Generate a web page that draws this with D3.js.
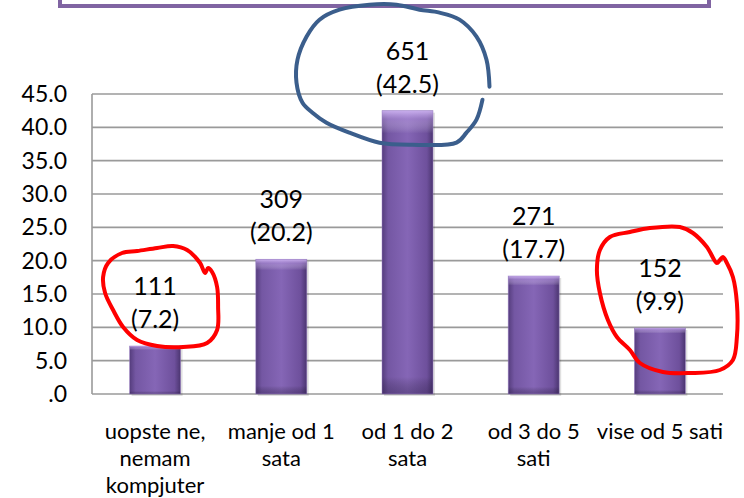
<!DOCTYPE html>
<html>
<head>
<meta charset="utf-8">
<script src="https://cdn.jsdelivr.net/npm/d3@7"></script>
<style>
  body { margin: 0; background: #fff; }
  svg { display: block; font-family: Lato, "Open Sans", sans-serif; }
</style>
</head>
<body>
<div id="grafik"></div>
<script>
// podaci
const kategorije = ["uopste ne, nemam kompjuter", "manje od 1 sata", "od 1 do 2 sata", "od 3 do 5 sati", "vise od 5 sati"];
const kategorijeRedovi = [["uopste ne,", "nemam", "kompjuter"], ["manje od 1", "sata"], ["od 1 do 2", "sata"], ["od 3 do 5", "sati"], ["vise od 5 sati"]];
const broj = [111, 309, 651, 271, 152];
const procenat = [7.2, 20.2, 42.5, 17.7, 9.9];
const yTicks = [0, 5, 10, 15, 20, 25, 30, 35, 40, 45];

// rucno nacrtani krugovi (pomak u px od vrha stupca)
const krugovi = [
  { idx: 0, boja: "#ff0000", zatvoren: true, tacke: [[50,-73],[45,-83],[32,-96],[18,-100],[2,-98],[-18,-95],[-33,-93],[-47,-83],[-52,-69],[-50,-53],[-42,-36],[-32,-19],[-18,-6],[2,0],[28,1],[52,-3],[62,-16],[63,-39],[62,-59],[57,-74],[53,-78],[50,-73]] },
  { idx: 2, boja: "#3b5e8c", zatvoren: false, tacke: [[82,-24],[79,-51],[69,-74],[52,-91],[32,-98],[12,-101],[-11,-106],[-38,-106],[-68,-101],[-88,-91],[-101,-74],[-110,-51],[-111,-28],[-105,-8],[-95,2],[-81,12],[-58,22],[-28,32],[5,34],[49,32],[59,22],[69,9],[75,-11]] },
  { idx: 4, boja: "#ff0000", zatvoren: true, tacke: [[63,-71],[67,-65],[73,-51],[77,-25],[77,9],[73,32],[60,42],[30,45],[3,44],[-20,35],[-30,22],[-43,9],[-52,-8],[-60,-35],[-63,-58],[-60,-78],[-50,-91],[-30,-96],[-10,-100],[20,-101],[33,-95],[47,-81],[57,-65],[60,-68],[63,-71]] }
];

const width = 744, height = 498;
const m = { left: 92, right: 723, top: 94, bottom: 394 };

const svg = d3.select("#grafik").append("svg")
  .attr("width", width).attr("height", height);

const defs = svg.append("defs");
const grad = defs.append("linearGradient").attr("id", "stubac").attr("x1", "0").attr("x2", "1").attr("y1", "0").attr("y2", "0");
[["0%", "#553d7d"], ["12%", "#7457a3"], ["50%", "#8566b6"], ["88%", "#6e509c"], ["100%", "#4b3570"]]
  .forEach(s => grad.append("stop").attr("offset", s[0]).attr("stop-color", s[1]));
const sjaj = defs.append("linearGradient").attr("id", "sjaj").attr("x1", "0").attr("x2", "0").attr("y1", "0").attr("y2", "1");
[["0%", "#d2b8f5", 0.9], ["3%", "#b89ae0", 0.5], ["8%", "#ffffff", 0], ["94%", "#000000", 0], ["100%", "#2a1a45", 0.35]]
  .forEach(s => sjaj.append("stop").attr("offset", s[0]).attr("stop-color", s[1]).attr("stop-opacity", s[2]));

// naslovni okvir (odsjecen)
svg.append("rect")
  .attr("x", 60).attr("y", -40).attr("width", 649).attr("height", 46)
  .attr("fill", "#fff").attr("stroke", "#8064a2").attr("stroke-width", 4);

const x = d3.scaleBand().domain(kategorije).range([m.left, m.right]).paddingInner(0.596).paddingOuter(0.298);
const y = d3.scaleLinear().domain([0, 45]).range([m.bottom, m.top]);

// mreza
svg.append("g").selectAll("line").data(yTicks).enter().append("line")
  .attr("x1", m.left).attr("x2", m.right)
  .attr("y1", d => y(d)).attr("y2", d => y(d))
  .attr("stroke", "#9a9a9a").attr("stroke-width", 1.6);

svg.append("line")
  .attr("x1", m.left).attr("x2", m.left).attr("y1", m.top).attr("y2", m.bottom)
  .attr("stroke", "#9a9a9a").attr("stroke-width", 1.6);

// Y os
const yAxis = svg.append("g")
  .attr("transform", `translate(${m.left - 25},0)`)
  .call(d3.axisLeft(y).tickValues(yTicks).tickSize(0).tickPadding(0)
    .tickFormat(d => d === 0 ? ".0" : d3.format(".1f")(d)));
yAxis.select(".domain").remove();
yAxis.selectAll("text").attr("font-size", "23px").attr("fill", "#000")
  .attr("font-family", "Lato, sans-serif");

// stupci
const podaci = kategorije.map((k, i) => ({ k: k, n: broj[i], p: procenat[i] }));

svg.selectAll("rect.senka").data(podaci).enter().append("rect")
  .attr("class", "senka")
  .attr("x", d => x(d.k) + 2).attr("y", d => y(d.p) + 2)
  .attr("width", x.bandwidth()).attr("height", d => y(0) - y(d.p))
  .attr("fill", "#000").attr("opacity", 0.12);

svg.selectAll("rect.stubac").data(podaci).enter().append("rect")
  .attr("class", "stubac")
  .attr("x", d => x(d.k)).attr("y", d => y(d.p))
  .attr("width", x.bandwidth()).attr("height", d => y(0) - y(d.p))
  .attr("fill", "url(#stubac)");

svg.selectAll("rect.sjaj").data(podaci).enter().append("rect")
  .attr("class", "sjaj")
  .attr("x", d => x(d.k)).attr("y", d => y(d.p))
  .attr("width", x.bandwidth()).attr("height", d => y(0) - y(d.p))
  .attr("fill", "url(#sjaj)")
  .attr("stroke", "#9b7fc6").attr("stroke-width", 0.8).attr("stroke-opacity", 0.6);

// oznake vrijednosti
const oznake = svg.append("g").attr("font-size", "25px").attr("text-anchor", "middle").attr("fill", "#000");
oznake.selectAll("text.n").data(podaci).enter().append("text")
  .attr("x", d => x(d.k) + x.bandwidth() / 2)
  .attr("y", d => y(d.p) - 51)
  .text(d => d.n);
oznake.selectAll("text.p").data(podaci).enter().append("text")
  .attr("x", d => x(d.k) + x.bandwidth() / 2)
  .attr("y", d => y(d.p) - 18)
  .text(d => `(${d3.format(".1f")(d.p)})`);

// X oznake
const xOz = svg.append("g").attr("font-size", "22px").attr("text-anchor", "middle").attr("fill", "#000");
kategorije.forEach((k, i) => {
  const t = xOz.append("text").attr("x", x(k) + x.bandwidth() / 2).attr("y", 439);
  kategorijeRedovi[i].forEach((red, j) => {
    t.append("tspan").attr("x", x(k) + x.bandwidth() / 2).attr("y", 439 + j * 27).text(red);
  });
});

// krugovi
krugovi.forEach(c => {
  const d = podaci[c.idx];
  const cx = x(d.k) + x.bandwidth() / 2, cy = y(d.p);
  const linija = d3.line()
    .x(p => cx + p[0]).y(p => cy + p[1])
    .curve(c.zatvoren ? d3.curveCatmullRomClosed : d3.curveCatmullRom);
  svg.append("path")
    .attr("d", linija(c.zatvoren ? c.tacke.slice(0, -1) : c.tacke))
    .attr("fill", "none").attr("stroke", c.boja).attr("stroke-width", 4)
    .attr("stroke-linecap", "round").attr("stroke-linejoin", "round");
});
</script>
</body>
</html>
